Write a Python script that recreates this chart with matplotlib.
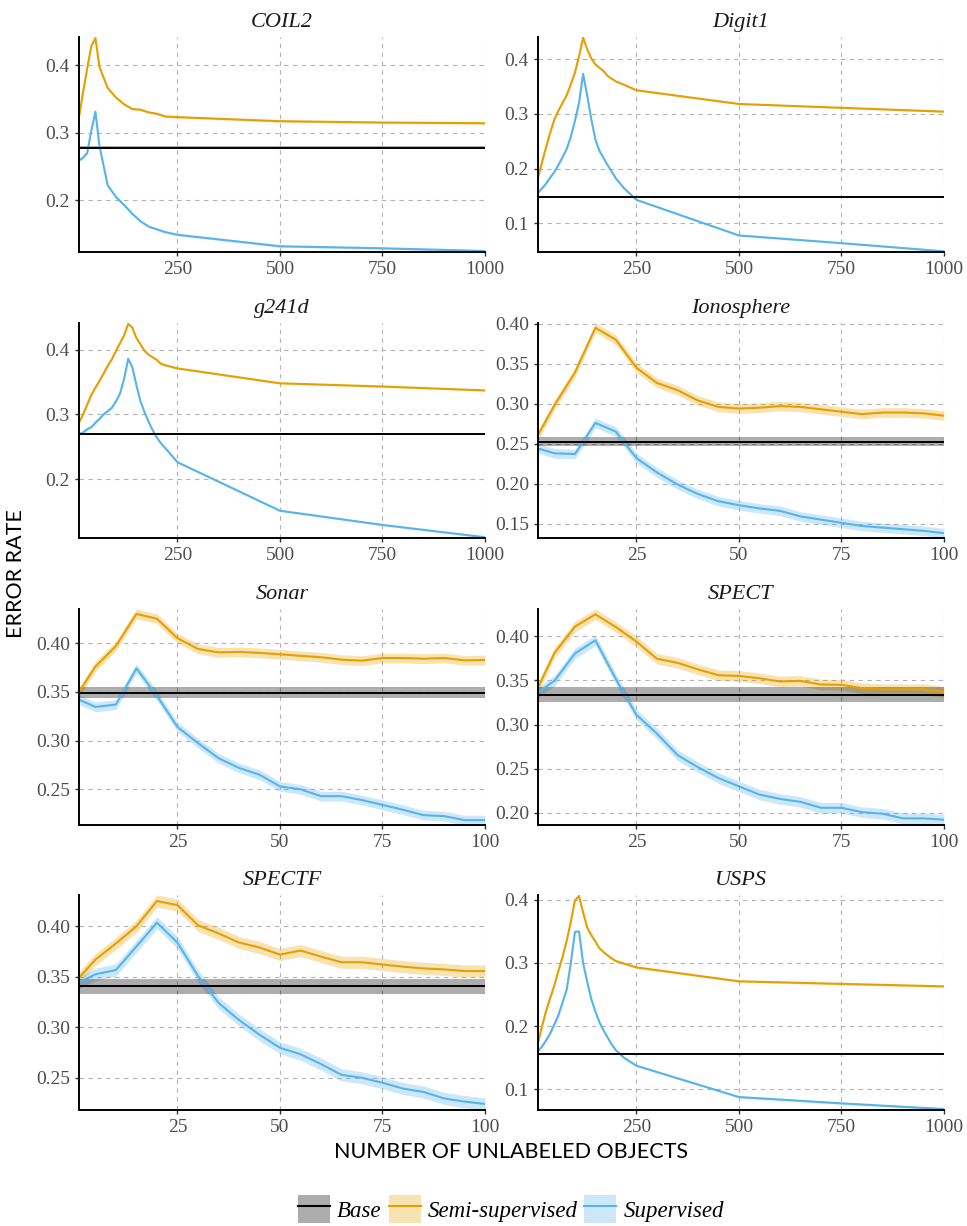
import matplotlib
matplotlib.use("Agg")
import matplotlib.pyplot as plt
from matplotlib.patches import Patch
from matplotlib.lines import Line2D

# ---- data ----
titles = ["COIL2", "Digit1", "g241d", "Ionosphere", "Sonar", "SPECT", "SPECTF", "USPS"]

coil2_x = [10, 20, 30, 40, 50, 60, 80, 100, 120, 140, 160, 180, 200, 220, 250, 500, 750, 1000]
coil2_semi = [0.323, 0.360, 0.395, 0.428, 0.440, 0.397, 0.366, 0.352, 0.342, 0.335, 0.334,
              0.330, 0.328, 0.324, 0.323, 0.317, 0.315, 0.314]
coil2_sup = [0.259, 0.263, 0.270, 0.303, 0.331, 0.280, 0.222, 0.205, 0.193, 0.180, 0.169,
             0.161, 0.157, 0.153, 0.149, 0.132, 0.129, 0.125]

digit1_x = [10, 20, 30, 40, 50, 60, 70, 80, 90, 100, 110, 120, 130, 140, 150, 160, 170, 180,
            190, 200, 220, 250, 500, 750, 1000]
digit1_semi = [0.183, 0.212, 0.240, 0.266, 0.290, 0.306, 0.320, 0.334, 0.354, 0.375, 0.405,
               0.439, 0.418, 0.401, 0.390, 0.384, 0.378, 0.369, 0.364, 0.359, 0.353, 0.343,
               0.318, 0.311, 0.304]
digit1_sup = [0.156, 0.164, 0.173, 0.184, 0.194, 0.207, 0.221, 0.236, 0.258, 0.287, 0.320,
              0.373, 0.333, 0.290, 0.253, 0.232, 0.219, 0.206, 0.194, 0.182, 0.164, 0.143,
              0.078, 0.064, 0.049]

g241d_x = [10, 20, 30, 40, 50, 60, 70, 80, 90, 100, 110, 120, 130, 140, 150, 160, 170, 180,
           190, 200, 210, 220, 250, 500, 750, 1000]
g241d_semi = [0.287, 0.300, 0.315, 0.330, 0.341, 0.352, 0.363, 0.375, 0.385, 0.398, 0.410,
              0.422, 0.440, 0.434, 0.418, 0.408, 0.398, 0.392, 0.388, 0.384, 0.378, 0.376,
              0.371, 0.348, 0.343, 0.337]
g241d_sup = [0.269, 0.272, 0.277, 0.280, 0.287, 0.293, 0.300, 0.305, 0.310, 0.320, 0.332,
             0.355, 0.386, 0.373, 0.345, 0.320, 0.303, 0.288, 0.275, 0.264, 0.255, 0.248,
             0.226, 0.151, 0.129, 0.110]

usps_x = digit1_x
usps_semi = [0.174, 0.200, 0.225, 0.245, 0.265, 0.288, 0.310, 0.335, 0.365, 0.399, 0.406,
             0.380, 0.356, 0.344, 0.334, 0.323, 0.317, 0.312, 0.307, 0.303, 0.299, 0.293,
             0.271, 0.267, 0.263]
usps_sup = [0.161, 0.168, 0.178, 0.189, 0.203, 0.218, 0.238, 0.258, 0.300, 0.349, 0.350,
            0.300, 0.270, 0.243, 0.223, 0.206, 0.193, 0.182, 0.171, 0.162, 0.150, 0.1375,
            0.088, 0.078, 0.069]

small_x = [1, 5, 10, 15, 20, 25, 30, 35, 40, 45, 50, 55, 60, 65, 70, 75, 80, 85, 90, 95, 100]
iono_semi = [0.261, 0.298, 0.339, 0.395, 0.380, 0.345, 0.326, 0.317, 0.304, 0.296, 0.294,
             0.295, 0.297, 0.296, 0.293, 0.290, 0.287, 0.289, 0.289, 0.288, 0.285]
iono_sup = [0.244, 0.238, 0.237, 0.276, 0.265, 0.232, 0.214, 0.199, 0.187, 0.178, 0.173,
            0.169, 0.166, 0.159, 0.155, 0.151, 0.147, 0.145, 0.143, 0.141, 0.138]
sonar_semi = [0.350, 0.376, 0.397, 0.430, 0.425, 0.405, 0.394, 0.3905, 0.391, 0.390, 0.3885,
              0.387, 0.3855, 0.383, 0.382, 0.3847, 0.3847, 0.384, 0.3847, 0.3823, 0.3827]
sonar_sup = [0.342, 0.3345, 0.337, 0.374, 0.346, 0.314, 0.2975, 0.282, 0.272, 0.265, 0.253,
             0.250, 0.243, 0.243, 0.239, 0.234, 0.229, 0.2235, 0.2225, 0.2184, 0.2184]
spect_semi = [0.342, 0.381, 0.411, 0.425, 0.4105, 0.394, 0.3746, 0.370, 0.3626, 0.3559, 0.3551,
              0.3525, 0.3488, 0.3495, 0.3454, 0.345, 0.3413, 0.340, 0.340, 0.340, 0.337]
spect_sup = [0.3364, 0.3495, 0.3806, 0.3955, 0.3514, 0.311, 0.2897, 0.2654, 0.2516, 0.2393,
             0.2299, 0.2206, 0.2157, 0.2123, 0.2056, 0.2056, 0.2007, 0.1989, 0.1936, 0.1936, 0.1921]
spectf_semi = [0.349, 0.367, 0.383, 0.400, 0.425, 0.421, 0.401, 0.393, 0.384, 0.379, 0.372,
               0.376, 0.370, 0.3644, 0.3644, 0.3622, 0.360, 0.3583, 0.3573, 0.3557, 0.3557]
spectf_sup = [0.3444, 0.3525, 0.3567, 0.380, 0.4036, 0.3838, 0.3509, 0.3243, 0.3072, 0.2927,
              0.2797, 0.2733, 0.2636, 0.2529, 0.250, 0.2451, 0.2393, 0.236, 0.2296, 0.2264, 0.2241]

base_rate = [0.278, 0.148, 0.269, 0.2527, 0.349, 0.334, 0.3405, 0.156]
base_err = [0.002, 0.0008, 0.0008, 0.0055, 0.0057, 0.008, 0.0076, 0.0008]
curve_err = [0.0015, 0.0012, 0.0012, 0.006, 0.005, 0.006, 0.006, 0.0015]

xs = [coil2_x, digit1_x, g241d_x, small_x, small_x, small_x, small_x, usps_x]
semis = [coil2_semi, digit1_semi, g241d_semi, iono_semi, sonar_semi, spect_semi, spectf_semi, usps_semi]
sups = [coil2_sup, digit1_sup, g241d_sup, iono_sup, sonar_sup, spect_sup, spectf_sup, usps_sup]

ORANGE = "#E69F00"
BLUE = "#56B4E9"
SERIF = "Liberation Serif"

fig = plt.figure(figsize=(9.67, 12.26), dpi=100)
W, H = 967.0, 1226.0
col_left = [79, 538]
row_tb = [(37, 252), (323, 538), (609, 825), (895, 1110)]

for i, name in enumerate(titles):
    r, c = divmod(i, 2)
    top, bot = row_tb[r]
    ax = fig.add_axes([col_left[c] / W, 1 - bot / H, 406 / W, (bot - top) / H])
    x = xs[i]
    s = semis[i]
    u = sups[i]
    e = curve_err[i]
    ax.fill_between(x, [v - e for v in s], [v + e for v in s], color=ORANGE, alpha=0.3, lw=0)
    ax.fill_between(x, [v - e for v in u], [v + e for v in u], color=BLUE, alpha=0.3, lw=0)
    ax.plot(x, s, color=ORANGE, lw=1.5)
    ax.plot(x, u, color=BLUE, lw=1.5)
    ax.fill_between([x[0], x[-1]], base_rate[i] - base_err[i], base_rate[i] + base_err[i],
                    color="black", alpha=0.32, lw=0)
    ax.plot([x[0], x[-1]], [base_rate[i]] * 2, color="black", lw=1.4)

    ax.set_xlim(x[0], x[-1])
    lo = min(min(s), min(u)) - e
    hi = max(max(s), max(u)) + e
    ax.set_ylim(lo, hi)
    if x[-1] == 1000:
        ax.set_xticks([250, 500, 750, 1000])
        yt = [0.1, 0.2, 0.3, 0.4]
        ax.set_yticks([t for t in yt if lo <= t <= hi])
        ax.set_yticklabels(["%.1f" % t for t in yt if lo <= t <= hi])
    else:
        ax.set_xticks([25, 50, 75, 100])
        yt = [0.15, 0.20, 0.25, 0.30, 0.35, 0.40]
        ax.set_yticks([t for t in yt if lo <= t <= hi + 0.001])
        ax.set_yticklabels(["%.2f" % t for t in yt if lo <= t <= hi + 0.001])

    ax.grid(True, color="#b3b3b3", lw=0.8, linestyle=(0, (4, 4)))
    ax.set_axisbelow(True)
    for sp in ["top", "right"]:
        ax.spines[sp].set_visible(False)
    for sp in ["left", "bottom"]:
        ax.spines[sp].set_linewidth(1.4)
        ax.spines[sp].set_color("black")
    ax.tick_params(length=3, width=1, color="#333333", labelcolor="#4d4d4d", labelsize=14)
    for lab in ax.get_xticklabels() + ax.get_yticklabels():
        lab.set_fontfamily(SERIF)
    ax.set_title(name, fontsize=16, fontstyle="italic", family=SERIF, color="#1a1a1a", pad=7)

fig.text(511 / W, 1 - 1152 / H, "NUMBER OF UNLABELED OBJECTS", ha="center", va="center",
         family="Lato", fontsize=15.5, color="black")
fig.text(16 / W, 1 - 574 / H, "ERROR RATE", ha="center", va="center", rotation=90,
         family="Lato", fontsize=15.5, color="black")

handles = [
    (Patch(facecolor="black", alpha=0.32, lw=0), Line2D([], [], color="black", lw=1.5)),
    (Patch(facecolor=ORANGE, alpha=0.3, lw=0), Line2D([], [], color=ORANGE, lw=1.5)),
    (Patch(facecolor=BLUE, alpha=0.3, lw=0), Line2D([], [], color=BLUE, lw=1.5)),
]
fig.legend(handles, ["Base", "Semi-supervised", "Supervised"], loc="center",
           bbox_to_anchor=(511 / W, 1 - 1209 / H), ncol=3, frameon=False,
           prop={"family": SERIF, "style": "italic", "size": 16.5},
           handlelength=1.4, handleheight=1.5, handletextpad=0.3, columnspacing=0.3)

fig.savefig("out.png", dpi=100)
